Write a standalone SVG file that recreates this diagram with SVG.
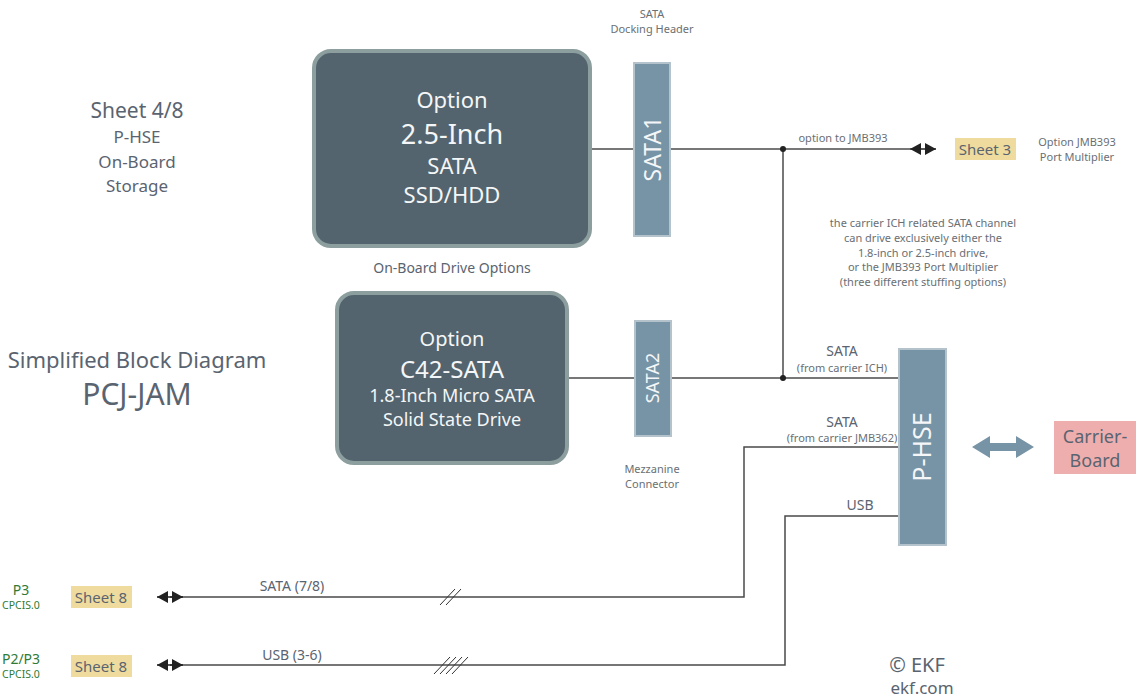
<svg xmlns="http://www.w3.org/2000/svg" width="1138" height="698" viewBox="0 0 1138 698">
<style>
text{font-family:"Noto Sans","Open Sans","Liberation Sans",sans-serif;fill:#5a6470;text-anchor:middle}
.w{fill:#f4f6f7}
.s{font-size:11px;fill:#6a6f74}
.g{fill:#2f7a35}
.ln{fill:none;stroke:#4a4a4a;stroke-width:1.5}
.drv{fill:#53646e;stroke:#8d9e9e;stroke-width:4}
.con{fill:#7793a6;stroke:#b4c2cc;stroke-width:2}
.sh{fill:#efdb9e}
.sl{stroke:#333;stroke-width:1}
</style>
<defs>
<g id="dbl"><path d="M0,0 L11,-6 L11,6 Z M26,0 L15,-6 L15,6 Z" fill="#222"/><line x1="0" y1="0" x2="26" y2="0" stroke="#222" stroke-width="1.5"/></g>
</defs>
<g id="titles">
<text x="137" y="118" font-size="21">Sheet 4/8</text>
<text x="137" y="143" font-size="17">P-HSE</text>
<text x="137" y="168" font-size="17">On-Board</text>
<text x="137" y="192" font-size="17">Storage</text>
<text x="137" y="368" font-size="22">Simplified Block Diagram</text>
<text x="137" y="405" font-size="30">PCJ-JAM</text>
<text x="917" y="672" font-size="20">© EKF</text>
<text x="922" y="694" font-size="17">ekf.com</text>
</g>
<g id="connectors">
<line class="ln" x1="592" y1="149" x2="634" y2="149"/>
<line class="ln" x1="670" y1="149" x2="910" y2="149"/>
<line class="ln" x1="783" y1="149" x2="783" y2="378"/>
<line class="ln" x1="569" y1="378" x2="635" y2="378"/>
<line class="ln" x1="671" y1="378" x2="899" y2="378"/>
<circle cx="783" cy="149" r="3" fill="#222"/>
<circle cx="783" cy="378" r="3" fill="#222"/>
<polyline class="ln" points="899,447 744,447 744,597 170,597"/>
<polyline class="ln" points="899,516 785,516 785,665 170,665"/>
<use href="#dbl" x="910" y="149"/>
<use href="#dbl" x="157" y="597"/>
<use href="#dbl" x="157" y="665"/>
<line class="sl" x1="440" y1="605" x2="455" y2="589"/>
<line class="sl" x1="446" y1="605" x2="461" y2="589"/>
<line class="sl" x1="434" y1="674" x2="450" y2="657"/>
<line class="sl" x1="440" y1="674" x2="456" y2="657"/>
<line class="sl" x1="446" y1="674" x2="462" y2="657"/>
<line class="sl" x1="452" y1="674" x2="468" y2="657"/>
<path d="M972,447 L990,436 L990,443 L1016,443 L1016,436 L1034,447 L1016,458 L1016,451 L990,451 L990,458 Z" fill="#7793a6"/>
</g>
<g id="labels">
<text class="s" x="652" y="18">SATA</text>
<text class="s" x="652" y="33">Docking Header</text>
<text class="s" x="843" y="142">option to JMB393</text>
<text class="s" x="1077" y="146">Option JMB393</text>
<text class="s" x="1077" y="161">Port Multiplier</text>
<text class="s" x="923" y="227">the carrier ICH related SATA channel</text>
<text class="s" x="923" y="242">can drive exclusively either the</text>
<text class="s" x="923" y="257">1.8-inch or 2.5-inch drive,</text>
<text class="s" x="923" y="271">or the JMB393 Port Multiplier</text>
<text class="s" x="923" y="286">(three different stuffing options)</text>
<text x="452" y="273" font-size="14">On-Board Drive Options</text>
<text class="s" x="652" y="473">Mezzanine</text>
<text class="s" x="652" y="488">Connector</text>
<text x="842" y="356" font-size="14">SATA</text>
<text class="s" x="842" y="372">(from carrier ICH)</text>
<text x="842" y="427" font-size="14">SATA</text>
<text class="s" x="842" y="442">(from carrier JMB362)</text>
<text x="860" y="510" font-size="14">USB</text>
<text x="292" y="591" font-size="14">SATA (7/8)</text>
<text x="292" y="660" font-size="14">USB (3-6)</text>
</g>
<g id="drive25">
<rect class="drv" x="314" y="51" width="276" height="195" rx="17"/>
<text class="w" x="452" y="108" font-size="22">Option</text>
<text class="w" x="452" y="144" font-size="27">2.5-Inch</text>
<text class="w" x="452" y="174" font-size="22">SATA</text>
<text class="w" x="452" y="203" font-size="22">SSD/HDD</text>
</g>
<g id="drive18">
<rect class="drv" x="337" y="293" width="230" height="170" rx="17"/>
<text class="w" x="452" y="346" font-size="20">Option</text>
<text class="w" x="452" y="378" font-size="24">C42-SATA</text>
<text class="w" x="452" y="402" font-size="18">1.8-Inch Micro SATA</text>
<text class="w" x="452" y="426" font-size="18">Solid State Drive</text>
</g>
<g id="sata1">
<rect class="con" x="634" y="63" width="36" height="173"/>
<text class="w" transform="translate(661,149) rotate(-90)" font-size="23">SATA1</text>
</g>
<g id="sata2">
<rect class="con" x="635" y="321" width="36" height="115"/>
<text class="w" transform="translate(659,378) rotate(-90)" font-size="18">SATA2</text>
</g>
<g id="phse">
<rect class="con" x="899" y="349" width="47" height="196"/>
<text class="w" transform="translate(931,447) rotate(-90)" font-size="25">P-HSE</text>
</g>
<g id="carrier">
<rect x="1054" y="421" width="82" height="53" fill="#efaeae"/>
<text x="1095" y="443" font-size="18">Carrier-</text>
<text x="1095" y="467" font-size="18">Board</text>
</g>
<g id="sheet3">
<rect class="sh" x="955" y="138" width="61" height="22"/>
<text x="985" y="155" font-size="15">Sheet 3</text>
</g>
<g id="sheet8a">
<rect class="sh" x="71" y="586" width="61" height="22"/>
<text x="101" y="603" font-size="15">Sheet 8</text>
<text class="g" x="21" y="595" font-size="14">P3</text>
<text class="g" x="21" y="609" font-size="10.5">CPCIS.0</text>
</g>
<g id="sheet8b">
<rect class="sh" x="71" y="655" width="61" height="22"/>
<text x="101" y="672" font-size="15">Sheet 8</text>
<text class="g" x="21" y="664" font-size="14">P2/P3</text>
<text class="g" x="21" y="678" font-size="10.5">CPCIS.0</text>
</g>
</svg>
